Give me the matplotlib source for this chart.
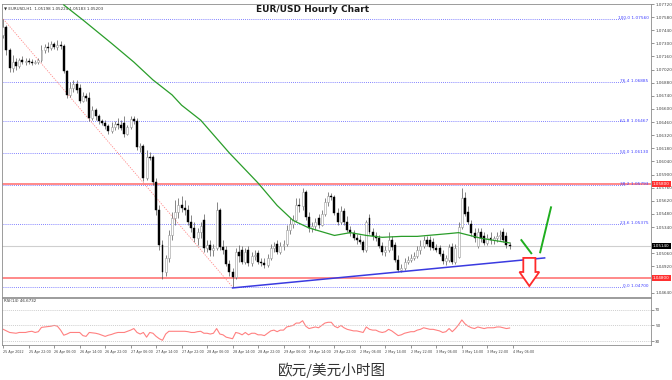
import matplotlib.pyplot as plt
import matplotlib.transforms as mtransforms
from matplotlib.patches import Polygon

plt.rcParams['font.family'] = ['DejaVu Sans']

# hourly EUR/USD candles, 25 Apr 14:00 .. 4 May 05:00
opens = [1.0739, 1.0747, 1.0723, 1.0704, 1.0710, 1.0706, 1.0712, 1.0710, 1.0711, 1.0710,
         1.0709, 1.0710, 1.0712, 1.0723, 1.0726, 1.0725, 1.0729, 1.0726, 1.0728, 1.0727,
         1.0700, 1.0675, 1.0682, 1.0687, 1.0682, 1.0669, 1.0674, 1.0672, 1.0650, 1.0659,
         1.0652, 1.0647, 1.0645, 1.0642, 1.0636, 1.0641, 1.0644, 1.0643, 1.0645, 1.0633,
         1.0641, 1.0649, 1.0647, 1.0619, 1.0620, 1.0586, 1.0609, 1.0609, 1.0582, 1.0552,
         1.0515, 1.0486, 1.0501, 1.0525, 1.0544, 1.0550, 1.0557, 1.0554, 1.0552, 1.0539,
         1.0533, 1.0522, 1.0529, 1.0541, 1.0512, 1.0515, 1.0509, 1.0512, 1.0552, 1.0513,
         1.0509, 1.0495, 1.0486, 1.0481, 1.0507, 1.0509, 1.0497, 1.0509, 1.0496, 1.0503,
         1.0506, 1.0497, 1.0496, 1.0493, 1.0501, 1.0512, 1.0516, 1.0507, 1.0514, 1.0516,
         1.0531, 1.0537, 1.0541, 1.0557, 1.0556, 1.0571, 1.0545, 1.0533, 1.0535, 1.0544,
         1.0536, 1.0548, 1.0561, 1.0567, 1.0566, 1.0549, 1.0539, 1.0551, 1.0539, 1.0531,
         1.0528, 1.0522, 1.0520, 1.0518, 1.0509, 1.0544, 1.0529, 1.0524, 1.0522, 1.0514,
         1.0507, 1.0509, 1.0520, 1.0515, 1.0499, 1.0488, 1.0490, 1.0497, 1.0499, 1.0501,
         1.0503, 1.0509, 1.0514, 1.0520, 1.0520, 1.0518, 1.0512, 1.0512, 1.0505, 1.0498,
         1.0499, 1.0513, 1.0497, 1.0502, 1.0534, 1.0565, 1.0550, 1.0537, 1.0528, 1.0514,
         1.0529, 1.0524, 1.0517, 1.0522, 1.0520, 1.0522, 1.0524, 1.0529, 1.0524, 1.0515]
highs = [1.0756, 1.0750, 1.0725, 1.0718, 1.0714, 1.0714, 1.0716, 1.0714, 1.0714, 1.0713,
         1.0712, 1.0714, 1.0728, 1.0729, 1.0731, 1.0732, 1.0731, 1.0734, 1.0732, 1.0729,
         1.0702, 1.0689, 1.0691, 1.0691, 1.0687, 1.0678, 1.0677, 1.0678, 1.0663, 1.0661,
         1.0655, 1.0649, 1.0648, 1.0644, 1.0646, 1.0647, 1.0650, 1.0648, 1.0652, 1.0643,
         1.0653, 1.0652, 1.0650, 1.0624, 1.0623, 1.0616, 1.0614, 1.0611, 1.0586, 1.0557,
         1.0520, 1.0504, 1.0531, 1.0550, 1.0563, 1.0565, 1.0567, 1.0563, 1.0557, 1.0547,
         1.0539, 1.0533, 1.0539, 1.0548, 1.0520, 1.0520, 1.0516, 1.0561, 1.0554, 1.0520,
         1.0514, 1.0499, 1.0490, 1.0512, 1.0515, 1.0514, 1.0512, 1.0514, 1.0507, 1.0509,
         1.0509, 1.0501, 1.0501, 1.0505, 1.0516, 1.0518, 1.0520, 1.0518, 1.0520, 1.0536,
         1.0544, 1.0547, 1.0565, 1.0565, 1.0576, 1.0573, 1.0550, 1.0539, 1.0544, 1.0548,
         1.0552, 1.0565, 1.0571, 1.0570, 1.0568, 1.0554, 1.0556, 1.0554, 1.0546, 1.0535,
         1.0531, 1.0527, 1.0525, 1.0520, 1.0541, 1.0548, 1.0533, 1.0529, 1.0525, 1.0518,
         1.0514, 1.0529, 1.0524, 1.0518, 1.0504, 1.0495, 1.0501, 1.0503, 1.0505, 1.0507,
         1.0514, 1.0520, 1.0524, 1.0524, 1.0524, 1.0522, 1.0516, 1.0515, 1.0509, 1.0504,
         1.0516, 1.0517, 1.0516, 1.0539, 1.0576, 1.0571, 1.0556, 1.0541, 1.0533, 1.0533,
         1.0533, 1.0529, 1.0527, 1.0529, 1.0524, 1.0529, 1.0531, 1.0533, 1.0529, 1.0518]
lows = [1.0736, 1.0718, 1.0699, 1.0699, 1.0702, 1.0704, 1.0708, 1.0707, 1.0708, 1.0707,
        1.0708, 1.0708, 1.0710, 1.0720, 1.0721, 1.0723, 1.0724, 1.0723, 1.0724, 1.0698,
        1.0672, 1.0673, 1.0678, 1.0677, 1.0666, 1.0667, 1.0668, 1.0647, 1.0648, 1.0648,
        1.0644, 1.0643, 1.0639, 1.0633, 1.0634, 1.0637, 1.0639, 1.0637, 1.0630, 1.0632,
        1.0639, 1.0644, 1.0616, 1.0614, 1.0583, 1.0584, 1.0605, 1.0579, 1.0547, 1.0509,
        1.0479, 1.0482, 1.0497, 1.0520, 1.0536, 1.0544, 1.0550, 1.0547, 1.0536, 1.0529,
        1.0518, 1.0515, 1.0522, 1.0507, 1.0507, 1.0503, 1.0503, 1.0509, 1.0509, 1.0505,
        1.0492, 1.0482, 1.0470, 1.0479, 1.0497, 1.0495, 1.0495, 1.0492, 1.0492, 1.0499,
        1.0495, 1.0492, 1.0490, 1.0491, 1.0499, 1.0507, 1.0505, 1.0505, 1.0509, 1.0514,
        1.0527, 1.0533, 1.0539, 1.0550, 1.0552, 1.0541, 1.0529, 1.0529, 1.0531, 1.0533,
        1.0535, 1.0546, 1.0556, 1.0563, 1.0547, 1.0536, 1.0537, 1.0536, 1.0529, 1.0524,
        1.0520, 1.0516, 1.0516, 1.0507, 1.0507, 1.0527, 1.0520, 1.0519, 1.0512, 1.0504,
        1.0503, 1.0507, 1.0509, 1.0497, 1.0486, 1.0486, 1.0488, 1.0495, 1.0497, 1.0499,
        1.0501, 1.0505, 1.0512, 1.0514, 1.0509, 1.0509, 1.0507, 1.0503, 1.0495, 1.0493,
        1.0497, 1.0495, 1.0495, 1.0501, 1.0532, 1.0546, 1.0537, 1.0524, 1.0518, 1.0512,
        1.0518, 1.0515, 1.0515, 1.0516, 1.0516, 1.0518, 1.0520, 1.0518, 1.0512, 1.0511]
closes = [1.0747, 1.0723, 1.0704, 1.0710, 1.0706, 1.0712, 1.0710, 1.0711, 1.0710, 1.0709,
          1.0710, 1.0712, 1.0723, 1.0726, 1.0725, 1.0729, 1.0726, 1.0728, 1.0727, 1.0700,
          1.0675, 1.0682, 1.0687, 1.0680, 1.0669, 1.0674, 1.0672, 1.0650, 1.0659, 1.0652,
          1.0647, 1.0645, 1.0642, 1.0636, 1.0641, 1.0644, 1.0643, 1.0640, 1.0633, 1.0641,
          1.0649, 1.0647, 1.0619, 1.0620, 1.0586, 1.0609, 1.0608, 1.0582, 1.0552, 1.0515,
          1.0486, 1.0501, 1.0525, 1.0544, 1.0550, 1.0557, 1.0554, 1.0552, 1.0539, 1.0533,
          1.0522, 1.0529, 1.0535, 1.0512, 1.0515, 1.0509, 1.0512, 1.0552, 1.0513, 1.0509,
          1.0495, 1.0486, 1.0481, 1.0507, 1.0503, 1.0497, 1.0507, 1.0496, 1.0503, 1.0504,
          1.0497, 1.0496, 1.0493, 1.0501, 1.0512, 1.0514, 1.0507, 1.0514, 1.0516, 1.0531,
          1.0537, 1.0541, 1.0557, 1.0556, 1.0571, 1.0545, 1.0533, 1.0535, 1.0539, 1.0536,
          1.0548, 1.0561, 1.0567, 1.0566, 1.0549, 1.0539, 1.0551, 1.0539, 1.0531, 1.0528,
          1.0522, 1.0520, 1.0518, 1.0509, 1.0539, 1.0529, 1.0524, 1.0522, 1.0514, 1.0507,
          1.0509, 1.0520, 1.0513, 1.0499, 1.0488, 1.0490, 1.0497, 1.0499, 1.0501, 1.0503,
          1.0509, 1.0514, 1.0520, 1.0516, 1.0513, 1.0512, 1.0509, 1.0505, 1.0498, 1.0501,
          1.0513, 1.0497, 1.0512, 1.0534, 1.0565, 1.0548, 1.0539, 1.0528, 1.0522, 1.0529,
          1.0522, 1.0517, 1.0522, 1.0520, 1.0522, 1.0524, 1.0525, 1.0520, 1.0515, 1.0514]

# 100-period moving average, read at a few bars
ma_bars = [19, 25, 34, 41, 47, 53, 56, 62, 71, 80, 86, 91, 96, 104, 109, 114, 119, 125,
           130, 140, 143, 150, 159]
ma_vals = [1.0771, 1.0755, 1.0730, 1.0710, 1.0691, 1.0675, 1.0664, 1.0648, 1.0613, 1.0581,
           1.0557, 1.0541, 1.0533, 1.0525, 1.0528, 1.0525, 1.0523, 1.0524, 1.0524, 1.0527,
           1.0528, 1.0522, 1.0517]

rsi = [45, 43, 41, 40.5, 40, 41, 41, 41, 42, 42.5, 41, 42, 47.5, 48, 48.5, 49, 50, 49, 44, 37.5,
       39, 41, 41, 41, 41, 37, 36, 41, 40.5, 40, 39, 37.5, 36, 37.5, 38.5, 40, 41, 41, 41, 42.5,
       44, 46, 41, 39, 41, 35, 41, 40, 36, 33, 31, 39, 42.5, 42.5, 42.5, 42.5, 42.5, 42.5, 42, 41,
       41, 42, 42.5, 40, 40, 39, 40, 46, 39, 38, 35, 34, 33, 41, 40, 38, 41, 38, 40, 40,
       38, 38, 37, 40, 43, 44, 42, 44, 44, 48, 49, 50, 53, 53, 56, 49, 46, 47, 48, 47,
       50, 53, 54, 54, 49, 47, 50, 47, 45, 44, 43, 43, 42, 41, 48, 45, 44, 44, 42, 41,
       42, 45, 43, 40, 37, 38, 40, 41, 42, 42, 44, 45, 47, 46, 45, 45, 44, 43, 41, 42,
       46, 42, 46, 51, 57, 52, 49, 47, 46, 48, 47, 46, 47, 47, 47, 48, 48, 47, 46, 46.7]

fib_pcts = ['0.0', '23.6', '38.2', '50.0', '61.8', '76.4', '100.0']
fib_vals = [1.04700, 1.05375, 1.05793, 1.06130, 1.06467, 1.06885, 1.07560]
red_levels = [1.05800, 1.04800]
price_ticks = [1.07720, 1.07580, 1.07440, 1.07300, 1.07160, 1.07020, 1.06880, 1.06740,
               1.06600, 1.06460, 1.06320, 1.06180, 1.06040, 1.05900, 1.05760, 1.05620,
               1.05480, 1.05340, 1.05060, 1.04920, 1.04640]
time_labels = ['25 Apr 2022', '25 Apr 22:00', '26 Apr 06:00', '26 Apr 14:00', '26 Apr 22:00',
               '27 Apr 06:00', '27 Apr 14:00', '27 Apr 22:00', '28 Apr 06:00', '28 Apr 14:00',
               '28 Apr 22:00', '29 Apr 06:00', '29 Apr 14:00', '29 Apr 22:00', '2 May 06:00',
               '2 May 14:00', '2 May 22:00', '3 May 06:00', '3 May 14:00', '3 May 22:00',
               '4 May 06:00']
rsi_levels = [70, 50, 30]

W, H = 672, 380
fig = plt.figure(figsize=(W / 100, H / 100), dpi=100)
fig.patch.set_facecolor('white')

def box(x0, y0, x1, y1):
    return [x0 / W, 1 - y1 / H, (x1 - x0) / W, (y1 - y0) / H]

ax = fig.add_axes(box(2, 4, 651, 297))
rax = fig.add_axes(box(2, 298, 651, 345), sharex=ax)

n = len(closes)
bars = list(range(n))

# candles
for i in bars:
    o, h, l, c = opens[i], highs[i], lows[i], closes[i]
    ax.vlines(i, l, h, color='#555555', lw=0.5, zorder=3)
    bottom = min(o, c)
    height = max(abs(c - o), 0.00003)
    if c < o:
        ax.bar(i, height, bottom=bottom, width=0.62, color='black', edgecolor='black',
               lw=0.3, zorder=4)
    else:
        ax.bar(i, height, bottom=bottom, width=0.62, color='white', edgecolor='#9a9a9a',
               lw=0.4, zorder=4)

xr = 203.4
ax.set_xlim(-0.4, xr)
ax.set_ylim(1.04593, 1.07720)

# fibonacci levels
for pct, v in zip(fib_pcts, fib_vals):
    ax.plot([0, 195.5], [v, v], color='#5a5aff', lw=0.6, ls=(0, (1, 1.5)), zorder=1)
    ax.text(202.6, v + 0.00008, f'{pct} {v:.5f}', color='#4040ff', fontsize=3.1,
            ha='right', va='center', zorder=6)

# diagonal fib anchor
ax.plot([0, 72], [highs[0], lows[72]], color='#ff8a8a', lw=0.6, ls=(0, (1.5, 1.5)), zorder=2)

# support / resistance
for v in red_levels:
    ax.axhline(v, color='#ff6a6a', lw=1.1, zorder=2)

# current price line
ax.axhline(closes[-1], color='#cfcfcf', lw=0.8, zorder=1)

# moving average
ax.plot(ma_bars, ma_vals, color='#2a9d2a', lw=0.9, zorder=5)

# rising trend line
ax.plot([72, 170], [1.0469, 1.0501], color='#3a3ae0', lw=1.1, zorder=5)

# hand drawn arrows
ax.plot([162.7, 165.8], [1.0520, 1.0506], color='#1fae1f', lw=1.4, zorder=6)
ax.plot([168.6, 172.0], [1.0507, 1.0555], color='#1fae1f', lw=1.4, zorder=6)
arrow = Polygon([(163.3, 1.0501), (167.1, 1.0501), (167.1, 1.0486), (168.3, 1.0486),
                 (165.2, 1.0471), (162.1, 1.0486), (163.3, 1.0486)], closed=True,
                facecolor='white', edgecolor='#ff2a2a', lw=1.3, zorder=7)
ax.add_patch(arrow)

# right price scale
ax.yaxis.tick_right()
ax.set_yticks(price_ticks)
ax.set_yticklabels([f'{t:.5f}' for t in price_ticks])
ax.tick_params(axis='y', labelsize=3.0, length=2, width=0.4, pad=1, colors='#444444')
ax.tick_params(axis='x', bottom=False, labelbottom=False)

trans = mtransforms.blended_transform_factory(ax.transAxes, ax.transData)
for v in red_levels:
    ax.text(1.003, v, f'{v:.5f}', transform=trans, fontsize=3.0, color='white',
            va='center', ha='left',
            bbox=dict(boxstyle='square,pad=0.25', fc='#ff3030', ec='none'), zorder=8)
ax.text(1.003, closes[-1], f'{closes[-1]:.5f}', transform=trans, fontsize=3.0, color='white',
        va='center', ha='left', bbox=dict(boxstyle='square,pad=0.25', fc='black', ec='none'),
        zorder=8)

for a in (ax, rax):
    for s in a.spines.values():
        s.set_color('#8c8c8c')
        s.set_linewidth(0.6)

# header line
ax.text(0.003, 0.992, '\u25bc EURUSD,H1  1.05198 1.05224 1.05183 1.05203',
        transform=ax.transAxes, fontsize=2.9, color='#333333', va='top', ha='left')

# RSI panel
rax.plot(bars, rsi, color='#ff8080', lw=0.8)
for lv in rsi_levels:
    rax.axhline(lv, color='#bdbdbd', lw=0.5, ls=(0, (1.5, 1.5)))
rax.set_ylim(25, 85)
rax.yaxis.tick_right()
rax.set_yticks(rsi_levels)
rax.tick_params(axis='y', labelsize=3.0, length=2, width=0.4, pad=1, colors='#444444')
rax.text(0.003, 0.97, 'RSI(14) 46.6732', transform=rax.transAxes, fontsize=2.9,
         color='#333333', va='top', ha='left')

# time labels
rax.set_xticks([8 * k for k in range(len(time_labels))])
rax.set_xticklabels(time_labels)
rax.tick_params(axis='x', labelsize=2.4, length=2, width=0.4, pad=1.5, colors='#444444')
for lbl in rax.get_xticklabels():
    lbl.set_horizontalalignment('left')

fig.text(313 / W, 1 - 10 / H, 'EUR/USD Hourly Chart', fontsize=6.5, fontweight='bold',
         ha='center', va='center', color='#1a1a1a')
fig.text(332 / W, 1 - 370 / H, '欧元/美元小时图', fontsize=10.5, ha='center', va='center',
         color='#333333', family=['Noto Sans CJK SC', 'DejaVu Sans'])

fig.savefig('out.png', dpi=100, facecolor='white')
